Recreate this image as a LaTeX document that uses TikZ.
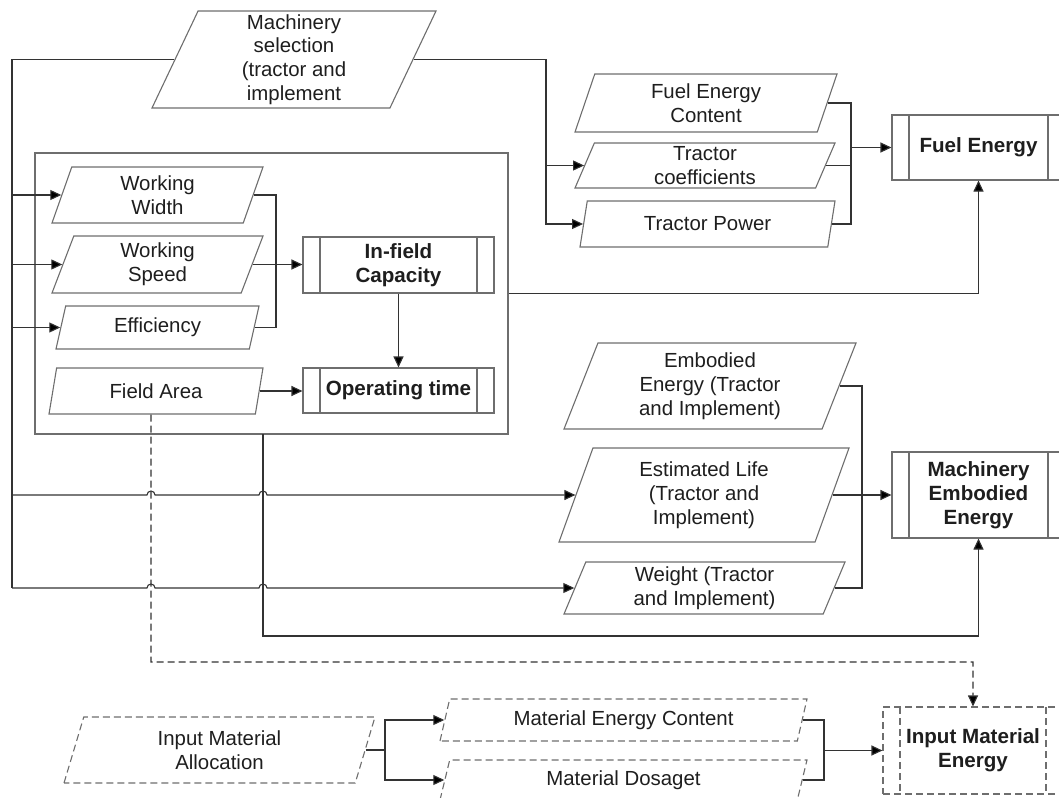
\documentclass[tikz,border=0pt]{standalone}
\usepackage{fontspec}
\setmainfont{Liberation Sans}
\usetikzlibrary{arrows.meta,shapes.geometric}
\definecolor{boxgray}{HTML}{6E6E6E}
\definecolor{wiregray}{HTML}{333333}
\definecolor{textdark}{HTML}{1E1E1E}
\newcommand{\datafont}{\fontsize{20.4}{23.8}\selectfont}
\newcommand{\procfont}{\fontsize{20.6}{23.8}\selectfont\bfseries}
\tikzset{
  datain/.style={trapezium,trapezium left angle=63,trapezium right angle=117,trapezium stretches body,draw=boxgray,line width=1.1pt,fill=white,text=textdark,align=center,inner sep=0pt,font=\datafont},
  ddatain/.style={datain,dash pattern=on 7pt off 4pt},
  procbox/.style={rectangle,draw=boxgray,line width=1.1pt,fill=white,text=textdark,align=center,inner sep=0pt,font=\procfont,
    path picture={\draw[boxgray,line width=1.1pt,#1] ([xshift=17pt]path picture bounding box.north west) -- ([xshift=17pt]path picture bounding box.south west)
      ([xshift=-17pt]path picture bounding box.north east) -- ([xshift=-17pt]path picture bounding box.south east);}},
  procbox/.default={solid},
  dprocbox/.style={procbox={dash pattern=on 7pt off 4pt},dash pattern=on 7pt off 4pt},
  framebox/.style={rectangle,draw=boxgray,line width=1.1pt,inner sep=0pt},
  link/.style={draw=wiregray,line width=1.1pt},
  flow/.style={link,-{Triangle[length=11pt,width=10pt,fill=black]}},
  dflow/.style={flow,dash pattern=on 7pt off 4pt}
}
\begin{document}
\begin{tikzpicture}[x=1pt,y=-1pt]
  \clip (0,0) rectangle (1059,797);
  \node[framebox,minimum width=473pt,minimum height=281pt] (calcframe) at (271.5,293.5) {};
  % machinery inputs
  \node[datain,minimum width=284pt,minimum height=97pt] (machsel) at (294,59.5) {Machinery\\selection\\(tractor and\\implement};
  \node[datain,minimum width=211pt,minimum height=56pt] (wwidth) at (157.5,195) {Working\\Width};
  \node[datain,minimum width=211pt,minimum height=57pt] (wspeed) at (157.5,264.5) {Working\\Speed};
  \node[datain,minimum width=203pt,minimum height=43pt] (effic) at (157.5,327.5) {Efficiency};
  \node[datain,minimum width=214pt,minimum height=46pt] (farea) at (156,391) {Field Area};
  \node[procbox,minimum width=191pt,minimum height=56pt] (infield) at (398.5,265) {In-field\\Capacity};
  \node[procbox,minimum width=191pt,minimum height=45pt] (optime) at (398.5,390.5) {Operating time};
  % fuel energy
  \node[datain,minimum width=262pt,minimum height=58pt] (fuelcont) at (706,103) {Fuel Energy\\Content};
  \node[datain,minimum width=260pt,minimum height=45pt] (tcoef) at (705,165.5) {Tractor\\coefficients};
  \node[datain,minimum width=255pt,minimum height=46pt] (tpower) at (707.5,224) {Tractor Power};
  \node[procbox,minimum width=173pt,minimum height=65pt] (fuelen) at (978.5,147.5) {Fuel Energy};
  % embodied energy
  \node[datain,minimum width=292pt,minimum height=86pt] (embod) at (710,386) {Embodied\\Energy (Tractor\\and Implement)};
  \node[datain,minimum width=290pt,minimum height=94pt] (estlife) at (704,495) {Estimated Life\\(Tractor and\\Implement)};
  \node[datain,minimum width=281pt,minimum height=52pt] (weight) at (704.5,588) {Weight (Tractor\\and Implement)};
  \node[procbox,minimum width=173pt,minimum height=86pt] (machen) at (978.5,495) {Machinery\\Embodied\\Energy};
  % input material
  \node[ddatain,minimum width=311pt,minimum height=66pt] (inmatalloc) at (219.5,750) {Input Material\\Allocation};
  \node[ddatain,minimum width=367pt,minimum height=42pt] (matcont) at (623.5,720) {Material Energy Content};
  \node[ddatain,minimum width=367pt,minimum height=40pt] (matdose) at (623.5,780) {Material Dosaget};
  \node[dprocbox,minimum width=180pt,minimum height=87pt] (inmaten) at (973,750.5) {Input Material\\Energy};
  % junctions
  \coordinate (busTop) at (12,59.5);
  \coordinate (busBot) at (12,588);
  \coordinate (wjoin) at (276,264.5);
  \coordinate (tjoin) at (546,59.5);
  \coordinate (fjoin) at (851,147.5);
  \coordinate (ejoin) at (862,495);
  \coordinate (framefoot) at (263,434);
  \coordinate (mjoin) at (385,750);
  \coordinate (njoin) at (824,750.5);
  % connectors
  \draw[link] (machsel.left side) -- (busTop) -- (busBot);
  \foreach \n in {wwidth,wspeed,effic}
    \draw[flow] (busTop |- \n.left side) -- (\n.left side);
  \draw[flow] (busTop |- estlife.left side) -- (147,495) arc[start angle=180,end angle=0,radius=4pt]
    -- (259,495) arc[start angle=180,end angle=0,radius=4pt] -- (estlife.left side);
  \draw[flow] (busBot) -- (147,588) arc[start angle=180,end angle=0,radius=4pt]
    -- (259,588) arc[start angle=180,end angle=0,radius=4pt] -- (weight.left side);
  \draw[link] (wwidth.right side) -| (wjoin);
  \draw[link] (effic.right side) -| (wjoin);
  \draw[flow] (wspeed.right side) -- (wspeed.right side -| infield.west);
  \draw[flow] (infield) -- (optime);
  \draw[flow] (farea.right side) -- (farea.right side -| optime.west);
  \draw[flow] (calcframe.east) -| (fuelen.south);
  \draw[link] (machsel.right side) -- (tjoin);
  \draw[flow] (tjoin) |- (tcoef.left side);
  \draw[flow] (tjoin) |- (tpower.left side);
  \foreach \n in {fuelcont,tcoef,tpower}
    \draw[link] (\n.right side) -| (fjoin);
  \draw[flow] (fjoin) -- (fuelen.west);
  \draw[link] (embod.right side) -| (ejoin);
  \draw[link] (weight.right side) -| (ejoin);
  \draw[flow] (estlife.right side) -- (machen.west);
  \draw[flow] (framefoot) -- (263,636) -| (machen.south);
  \draw[dflow] ([xshift=-5pt]farea.south) -- (151,662) -| (inmaten.north);
  \draw[link] (inmatalloc.right side) -- (mjoin);
  \draw[flow] (mjoin) |- (matcont.left side);
  \draw[flow] (mjoin) |- (matdose.left side);
  \draw[link] (matcont.right side) -| (njoin);
  \draw[link] (matdose.right side) -| (njoin);
  \draw[flow] (njoin) -- (inmaten.west);
\end{tikzpicture}
\end{document}
